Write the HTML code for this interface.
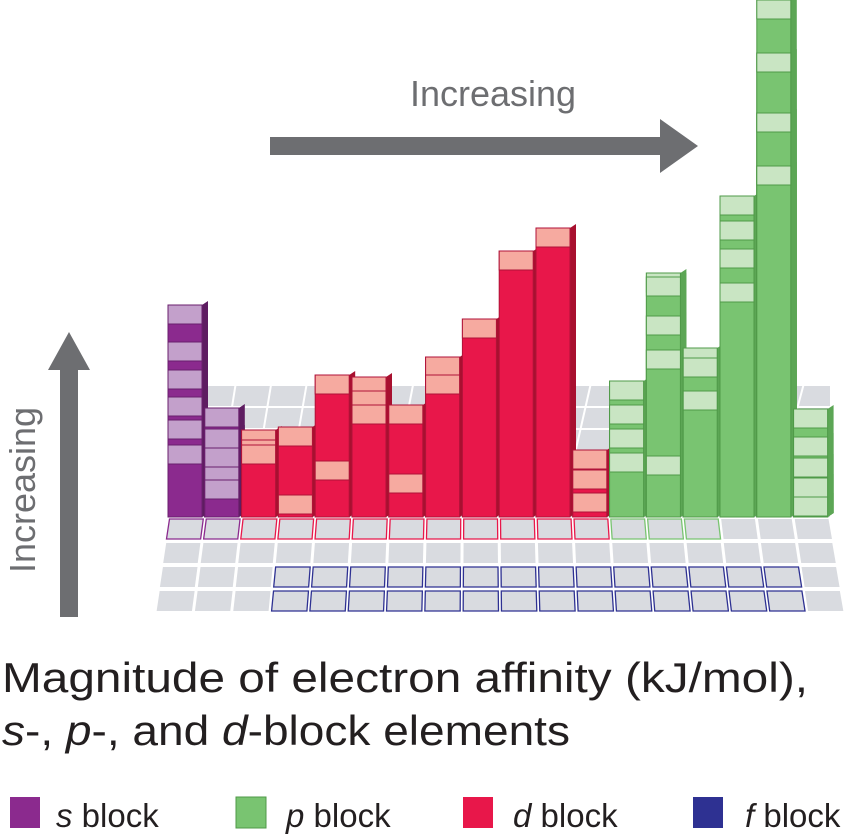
<!DOCTYPE html>
<html><head><meta charset="utf-8">
<style>
html,body{margin:0;padding:0;background:#fff;}
svg{display:block;font-family:"Liberation Sans",sans-serif;}
</style></head>
<body>
<svg id="chart" width="847" height="838" viewBox="0 0 847 838" xmlns="http://www.w3.org/2000/svg">
  <g id="floor"></g>
  <g id="bars"></g>
  <g>
    <text x="493" y="106" font-size="36" fill="#6d6e71" text-anchor="middle">Increasing</text>
    <polygon points="270,137 660,137 660,119 698,146 660,173 660,155 270,155" fill="#6d6e71"/>
  </g>
  <g>
    <polygon points="60,617 60,370 48,370 69,332 90,370 78,370 78,617" fill="#6d6e71"/>
    <text x="0" y="0" font-size="36" fill="#6d6e71" text-anchor="middle" transform="translate(35,490) rotate(-90)">Increasing</text>
  </g>
  <text x="2" y="692" font-size="42" fill="#231f20" textLength="806" lengthAdjust="spacingAndGlyphs">Magnitude of electron affinity (kJ/mol),</text>
  <text x="2" y="745" font-size="42" fill="#231f20" textLength="568" lengthAdjust="spacingAndGlyphs"><tspan font-style="italic">s</tspan>-, <tspan font-style="italic">p</tspan>-, and <tspan font-style="italic">d</tspan>-block elements</text>
  <g>
    <g><rect x="10" y="797" width="30" height="31" fill="#8b2a8e"/><text x="56" y="827" font-size="33" fill="#231f20"><tspan font-style="italic">s</tspan> block</text></g>
    <g><rect x="236" y="797" width="30" height="31" fill="#79c471" stroke="#4f9a48"/><text x="286" y="827" font-size="33" fill="#231f20"><tspan font-style="italic">p</tspan> block</text></g>
    <g><rect x="463" y="797" width="30" height="31" fill="#e8174a"/><text x="513" y="827" font-size="33" fill="#231f20"><tspan font-style="italic">d</tspan> block</text></g>
    <g><rect x="693" y="797" width="30" height="31" fill="#2e3192"/><text x="745" y="827" font-size="33" fill="#231f20"><tspan font-style="italic">f</tspan> block</text></g>
  </g>
</svg>
<script>
// Column categories (groups 1-18)
const groups = [1,2,3,4,5,6,7,8,9,10,11,12,13,14,15,16,17,18];
const blocks = ['s','s','d','d','d','d','d','d','d','d','d','d','p','p','p','p','p','p'];
// Electron-affinity levels per column (relative magnitude, one per period visible)
const sValues = [[212,175,147,120,97,72],[109,88,69,50,37]];
const dValues = [[87,77,72],[90,22],[142,56],[140,126,112],[112,43],[160,142],[198],[266],[289],[67,47,24]];
const pValues = [[136,112,88,64],[244,240,201,167,61],[169,159,126],[321,296,268,234],[517,464,404,351],[108,80,59,39,20]];

const NS='http://www.w3.org/2000/svg';
const floorG=document.getElementById('floor');
const barsG=document.getElementById('bars');
const baseY=517;
function yScale(v){return baseY - v;}
function colLeft(i){return 168 + i*36.8;}
const colW=34;
const palette={
 s:{front:'#8b2a8e',side:'#5e1c61',cap:'#c3a0cb',stroke:'#6a1f6d'},
 d:{front:'#e8174a',side:'#a8102f',cap:'#f6aaa0',stroke:'#b01238'},
 p:{front:'#79c471',side:'#5ca655',cap:'#c9e5c3',stroke:'#4f9a48'}
};
function mk(tag,attrs){const e=document.createElementNS(NS,tag);for(const k in attrs)e.setAttribute(k,attrs[k]);return e;}

const back=mk('polygon',{points:'200,385 830,385 830,517 168,517',fill:'#d9dbe0'});


floorG.appendChild(back);
for(let r=0;r<6;r++){
  const y=385+r*22;
  floorG.appendChild(mk('line',{x1:200-r*5,y1:y,x2:830,y2:y,stroke:'#fff','stroke-width':2}));
}
for(let c=0;c<18;c++){
  const x=200+c*35.5;
  floorG.appendChild(mk('line',{x1:x,y1:385,x2:x-c*0.9-20,y2:517,stroke:'#fff','stroke-width':2}));
}
const rowTops=[518,542,566,590];
const rowH=22;
function rowEdge(y){ // left/right edge at given y
  const t=(y-518)/95;
  return [168-13*t, 830+15*t];
}
for(let r=0;r<4;r++){
  const y0=rowTops[r], y1=y0+rowH;
  const [l0,rr0]=rowEdge(y0), [l1,rr1]=rowEdge(y1);
  const w0=(rr0-l0)/18, w1=(rr1-l1)/18;
  for(let c=0;c<18;c++){
    const a=l0+c*w0+1.5, b=l0+(c+1)*w0-1.5, d=l1+c*w1+1.5, e=l1+(c+1)*w1-1.5;
    let stroke='none';
    if(r===0){stroke = c<2?'#8b2a8e':(c<12?'#e8174a':(c<15?'#79c471':'none'));}
    if(r>=2 && c>=3 && c<=16) stroke='#2e3192';
    const p=mk('polygon',{points:`${a},${y0+1} ${b},${y0+1} ${e},${y1-1} ${d},${y1-1}`,fill:'#d9dbe0',stroke:stroke,'stroke-width':1.3});
    
    
    floorG.appendChild(p);
  }
}

const allValues=[...sValues,...dValues,...pValues];
allValues.forEach((vals,i)=>{
  const pal=palette[blocks[i]];
  const sorted=[...vals].sort((a,b)=>b-a);
  const g=mk('g',{});
  
  
  sorted.forEach((v)=>{
    const x=colLeft(i);
    const top=yScale(v);
    const h=baseY-top;
    g.appendChild(mk('polygon',{points:`${x+colW},${top} ${x+colW+6},${top-4} ${x+colW+6},${baseY-4} ${x+colW},${baseY}`,fill:pal.side}));
    const front=mk('rect',{x:x,y:top,width:colW,height:h,fill:pal.front,stroke:pal.stroke,'stroke-width':1});
    
    
    g.appendChild(front);
    const cap=mk('rect',{x:x,y:top,width:colW,height:Math.min(19,h),fill:pal.cap,stroke:pal.stroke,'stroke-width':1});
    
    
    g.appendChild(cap);
  });
  barsG.appendChild(g);
});
</script>
</body></html>
